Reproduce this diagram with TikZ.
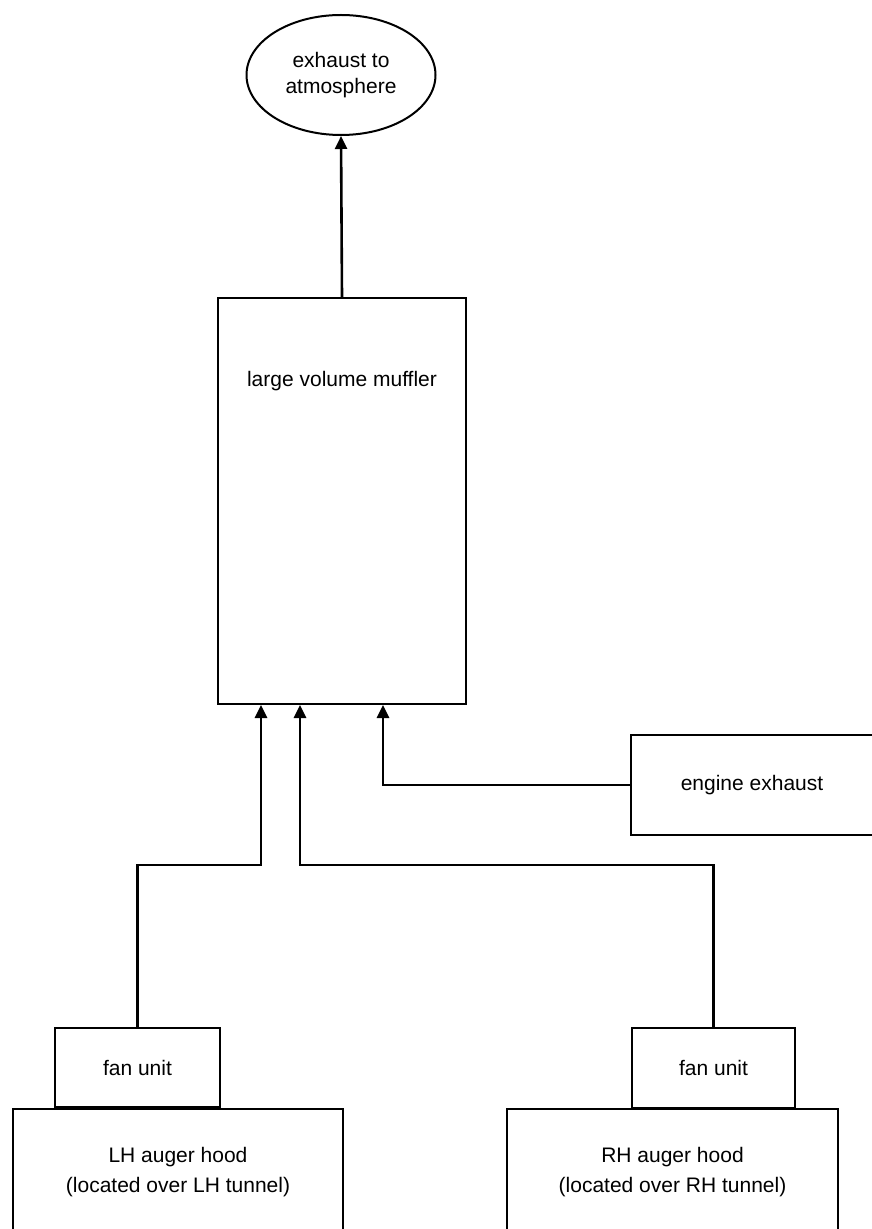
\documentclass[tikz,border=0pt]{standalone}
\usepackage{fontspec}
\setmainfont{Liberation Sans}
\usetikzlibrary{shapes.geometric,arrows.meta}
\begin{document}
\begin{tikzpicture}[x=0.5pt,y=-0.5pt,
 box/.style={draw,line width=1pt,inner sep=0pt,align=center,font=\fontsize{10.5}{13}\selectfont},
 flow/.style={line width=1.3pt,-{Triangle[width=6pt,length=6.5pt]}}]
 \useasboundingbox (0,0) rectangle (871,1229);
 % outlet and muffler
 \node[box,ellipse,minimum width=94.5pt,minimum height=60pt] (atmos) at (341,75) {exhaust to\\atmosphere};
 \node[box,minimum width=124pt,minimum height=203pt] (muffler) at (342,501) {};
 \node[font=\fontsize{10.5}{13}\selectfont] (mufflerlabel) at (342,381) {large volume muffler};
 \node[box,minimum width=121pt,minimum height=50pt] (engine) at (752,785) {engine exhaust};
 % fans and hoods
 \node[box,minimum width=82.5pt,minimum height=39.5pt] (lhfan) at (137.5,1067.5) {fan unit};
 \node[box,minimum width=81.5pt,minimum height=40pt] (rhfan) at (713.5,1068) {fan unit};
 \node[box,font=\fontsize{10.5}{15}\selectfont,minimum width=165pt,minimum height=63pt] (lhhood) at (178,1172) {LH auger hood\\(located over LH tunnel)};
 \node[box,font=\fontsize{10.5}{15}\selectfont,minimum width=165.5pt,minimum height=63pt] (rhhood) at (672.5,1172) {RH auger hood\\(located over RH tunnel)};
 % connectors
 \coordinate (inlh) at ([xshift=-40.5pt]muffler.south);
 \coordinate (inrh) at ([xshift=-21pt]muffler.south);
 \coordinate (inen) at ([xshift=20.5pt]muffler.south);
 \coordinate (split) at (0,865);
 \draw[flow] (muffler.north) -- (atmos.south);
 \draw[flow] (lhfan.north) |- (split -| inlh) -- (inlh);
 \draw[flow] (rhfan.north) |- (split -| inrh) -- (inrh);
 \draw[flow] (engine.west) -| (inen);
\end{tikzpicture}
\end{document}
